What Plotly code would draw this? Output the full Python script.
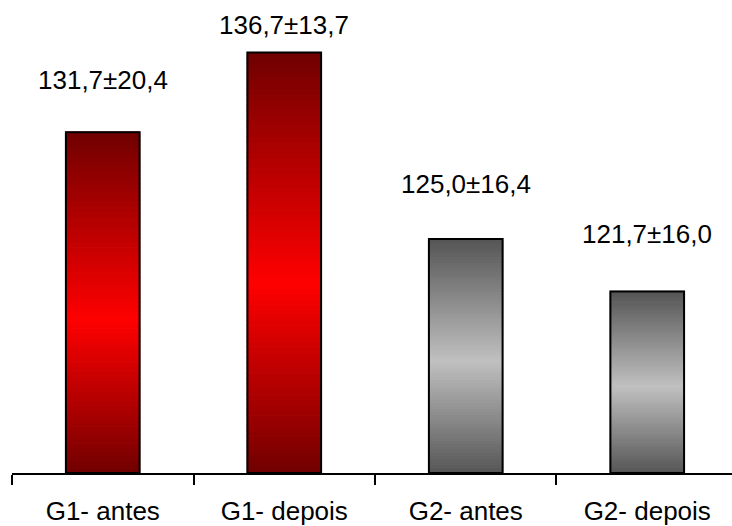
import plotly.graph_objects as go

# ---- data ----
categories = ["G1- antes", "G1- depois", "G2- antes", "G2- depois"]
means = [131.7, 136.7, 125.0, 121.7]
sds = [20.4, 13.7, 16.4, 16.0]
groups = ["G1", "G1", "G2", "G2"]

# ---- styling ----
AXIS_MIN, AXIS_MAX = 110.3, 140.0
BAR_WIDTH = 0.406
N_SEG = 80
label_shift = [52, 28, 55, 57]  # px above bar top
FONT = "Liberation Sans, Arial, sans-serif"
gradients = {
    # (position from top, rgb)
    "G1": [(0.0, (112, 0, 0)), (0.55, (255, 0, 0)), (1.0, (112, 0, 0))],
    "G2": [(0.0, (85, 85, 85)), (0.52, (192, 192, 192)), (1.0, (85, 85, 85))],
}


def grad_color(stops, t):
    for (t0, c0), (t1, c1) in zip(stops[:-1], stops[1:]):
        if t0 <= t <= t1:
            f = (t - t0) / (t1 - t0) if t1 > t0 else 0
            c = [round(a + (b - a) * f) for a, b in zip(c0, c1)]
            return f"rgb({c[0]},{c[1]},{c[2]})"
    c = stops[-1][1]
    return f"rgb({c[0]},{c[1]},{c[2]})"


fig = go.Figure()

# gradient fill: stacked thin segments for each bar
for j in range(N_SEG):
    bases, heights, colors = [], [], []
    for v, g in zip(means, groups):
        h = (v - AXIS_MIN) / N_SEG
        bases.append(AXIS_MIN + h * j)
        heights.append(h)
        t = 1 - (j + 0.5) / N_SEG
        colors.append(grad_color(gradients[g], t))
    fig.add_trace(go.Bar(
        x=categories, y=heights, base=bases, width=BAR_WIDTH,
        marker=dict(color=colors, line=dict(width=1.2, color=colors)),
        hoverinfo="skip", showlegend=False,
    ))

# outline
fig.add_trace(go.Bar(
    x=categories, y=[v - AXIS_MIN for v in means], base=AXIS_MIN, width=BAR_WIDTH,
    marker=dict(color="rgba(0,0,0,0)", line=dict(color="black", width=2)),
    showlegend=False,
))

for c, v, s, sh in zip(categories, means, sds, label_shift):
    txt = f"{v:.1f}±{s:.1f}".replace(".", ",")
    fig.add_annotation(x=c, y=v, yshift=sh, text=txt, showarrow=False,
                       font=dict(family=FONT, size=26, color="black"),
                       yanchor="middle", xanchor="center")

fig.update_layout(
    width=732, height=526,
    margin=dict(l=12, r=0, t=0, b=51),
    barmode="overlay",
    paper_bgcolor="white", plot_bgcolor="white",
    font=dict(family=FONT, size=26, color="black"),
    xaxis=dict(type="category", range=[-0.5, 3.467], tickson="boundaries",
               ticks="outside", ticklen=10, tickwidth=1.5, tickcolor="black",
               showline=True, linecolor="black", linewidth=1.5,
               showgrid=False, zeroline=False, ticklabelstandoff=14,
               tickfont=dict(family=FONT, size=26, color="black")),
    yaxis=dict(range=[AXIS_MIN, AXIS_MAX], visible=False, showgrid=False),
)

fig.write_html("out.html")
